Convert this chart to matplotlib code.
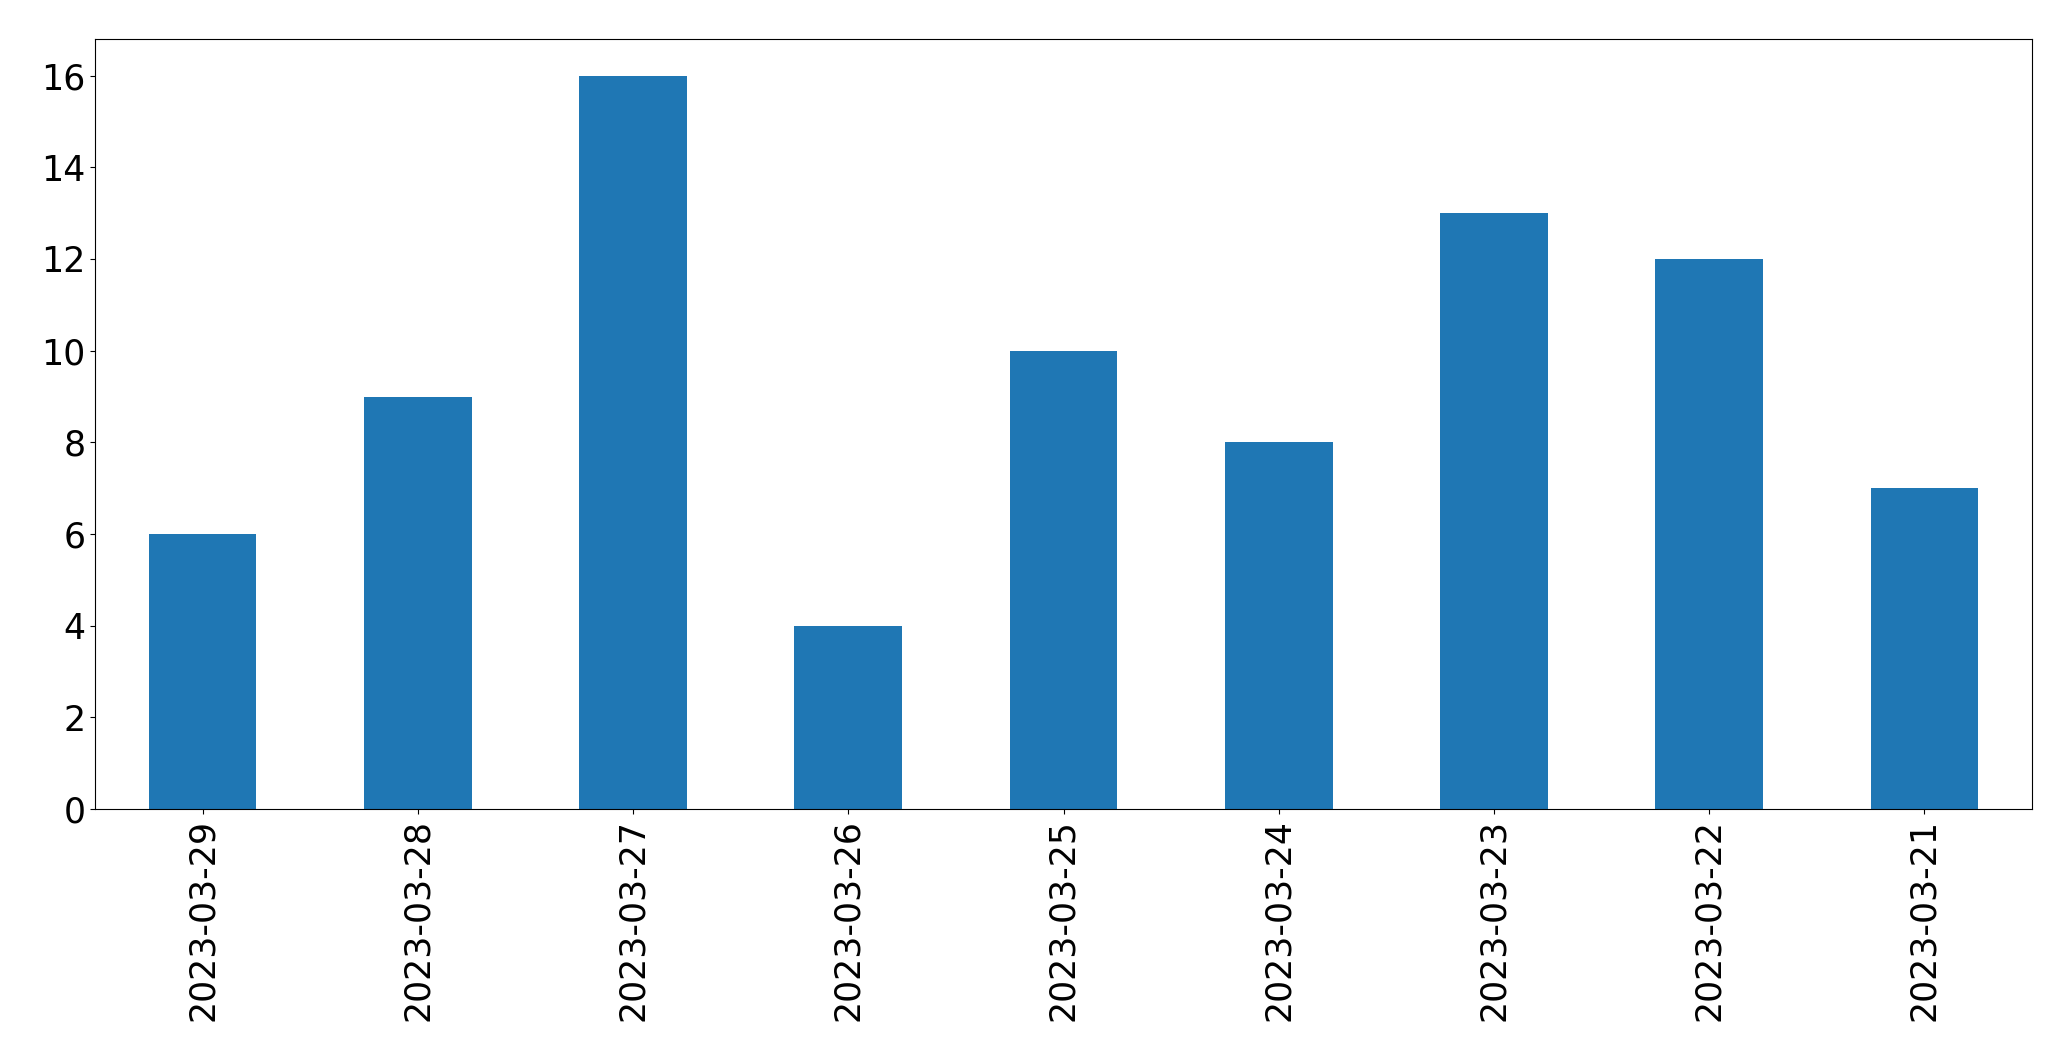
import matplotlib
matplotlib.use('Agg')
import numpy as np
import matplotlib.pyplot as plt

# daily counts, newest first
dates = ['2023-03-29', '2023-03-28', '2023-03-27', '2023-03-26', '2023-03-25',
         '2023-03-24', '2023-03-23', '2023-03-22', '2023-03-21']
counts = [6, 9, 16, 4, 10, 8, 13, 12, 7]

fig = plt.figure(figsize=(20.71, 10.61), dpi=100)
ax = fig.add_axes([95 / 2071, 1 - 809 / 1061, (2032 - 95) / 2071, (809 - 39) / 1061])

ind = np.arange(len(dates))
ax.bar(ind, counts, 0.5, color='#1f77b4')
ax.set_xticks(ind)
ax.set_xticklabels(dates, rotation=90)
ax.set_xlim(-0.5, len(dates) - 0.5)
ax.set_ylim(0, 16.8)
ax.tick_params(labelsize=25)

fig.savefig('out.png', dpi=100)
